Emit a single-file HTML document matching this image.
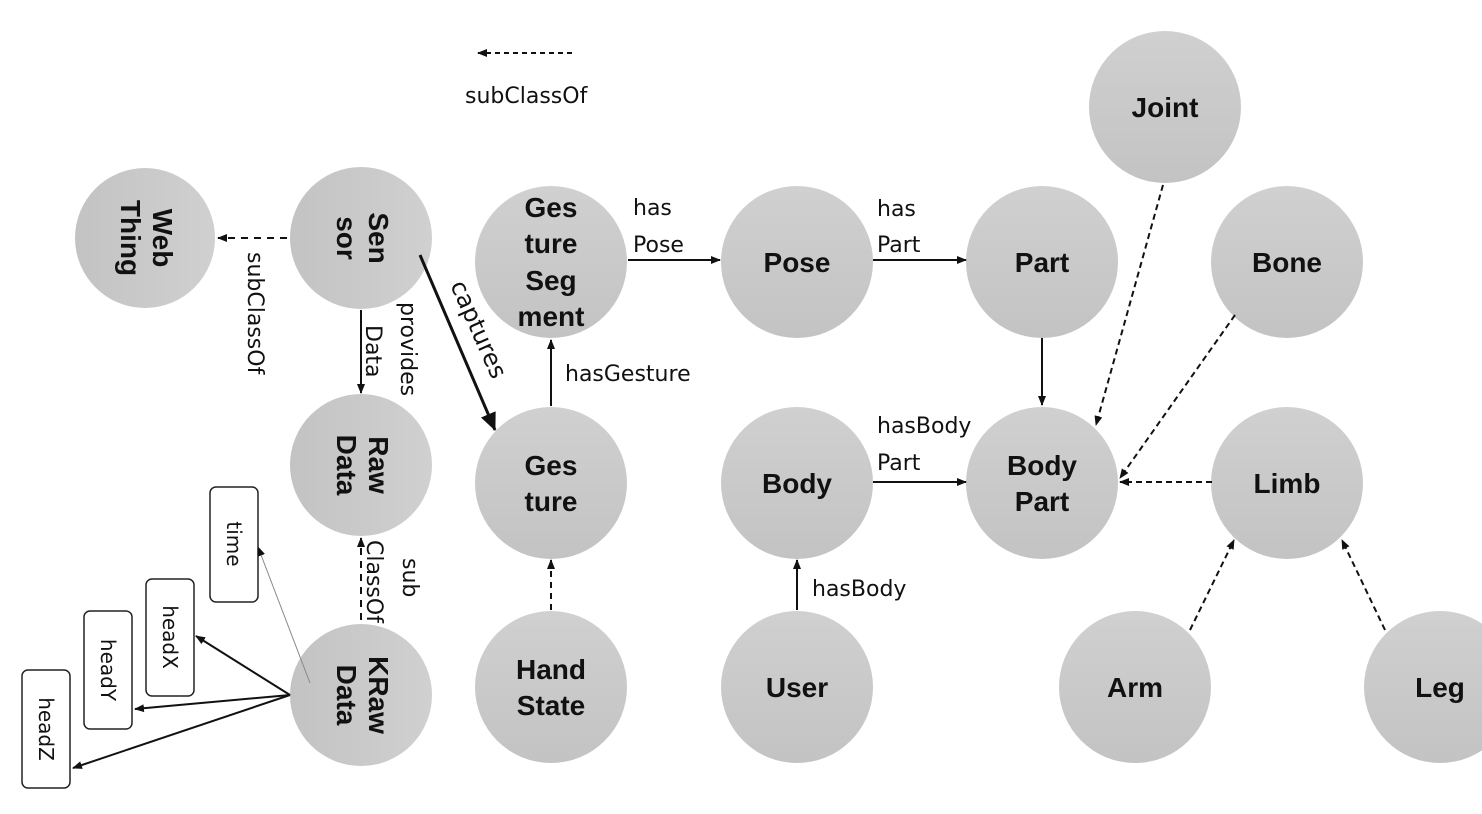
<!DOCTYPE html>
<html><head><meta charset="utf-8"><style>
html,body{margin:0;padding:0;background:#fff;width:1482px;height:814px;overflow:hidden}
svg{display:block}
.n{font-family:"Liberation Sans",Arial,sans-serif;font-weight:bold;font-size:28px;fill:#111;text-anchor:middle}
.l{font-family:"DejaVu Sans","Liberation Sans",sans-serif;font-size:22px;fill:#111}
.b{font-family:"DejaVu Sans","Liberation Sans",sans-serif;font-size:20px;fill:#111;text-anchor:middle}
</style></head><body>
<svg width="1482" height="814" viewBox="0 0 1482 814">
<defs>
<linearGradient id="g" x1="0" y1="0" x2="0" y2="1"><stop offset="0" stop-color="#d0d0d0"/><stop offset="1" stop-color="#c3c3c3"/></linearGradient>
<linearGradient id="gr" x1="1" y1="0" x2="0" y2="0"><stop offset="0" stop-color="#d0d0d0"/><stop offset="1" stop-color="#c3c3c3"/></linearGradient>
<marker id="a" markerWidth="10" markerHeight="10" refX="9" refY="5" orient="auto" markerUnits="userSpaceOnUse"><path d="M0,1 L10,5 L0,9 z" fill="#111"/></marker>
<marker id="A" markerWidth="18" markerHeight="18" refX="17" refY="9" orient="auto" markerUnits="userSpaceOnUse"><path d="M0,1 L18,9 L0,17 z" fill="#111"/></marker>
</defs>
<g fill="url(#gr)">
<circle cx="145" cy="238" r="70"/>
<circle cx="361" cy="238" r="71"/>
<circle cx="361" cy="465" r="71"/>
<circle cx="361" cy="695" r="71"/>
</g>
<g fill="url(#g)">
<circle cx="551" cy="262" r="76"/>
<circle cx="551" cy="483" r="76"/>
<circle cx="551" cy="687" r="76"/>
<circle cx="797" cy="262" r="76"/>
<circle cx="1042" cy="262" r="76"/>
<circle cx="1165" cy="107" r="76"/>
<circle cx="1287" cy="262" r="76"/>
<circle cx="797" cy="483" r="76"/>
<circle cx="1042" cy="483" r="76"/>
<circle cx="1287" cy="483" r="76"/>
<circle cx="797" cy="687" r="76"/>
<circle cx="1135" cy="687" r="76"/>
<circle cx="1440" cy="687" r="76"/>
</g>
<g class="n">
<text transform="translate(145,238) rotate(90)"><tspan x="0" y="-8">Web</tspan><tspan x="0" y="24">Thing</tspan></text>
<text transform="translate(361,238) rotate(90)"><tspan x="0" y="-8">Sen</tspan><tspan x="0" y="24">sor</tspan></text>
<text transform="translate(361,465) rotate(90)"><tspan x="0" y="-8">Raw</tspan><tspan x="0" y="24">Data</tspan></text>
<text transform="translate(361,695) rotate(90)"><tspan x="0" y="-8">KRaw</tspan><tspan x="0" y="24">Data</tspan></text>
<text x="551" y="217">Ges</text><text x="551" y="253">ture</text><text x="551" y="290">Seg</text><text x="551" y="326">ment</text>
<text x="551" y="475">Ges</text><text x="551" y="511">ture</text>
<text x="551" y="679">Hand</text><text x="551" y="715">State</text>
<text x="797" y="272">Pose</text>
<text x="1042" y="272">Part</text>
<text x="1165" y="117">Joint</text>
<text x="1287" y="272">Bone</text>
<text x="797" y="493">Body</text>
<text x="1042" y="475">Body</text><text x="1042" y="511">Part</text>
<text x="1287" y="493">Limb</text>
<text x="797" y="697">User</text>
<text x="1135" y="697">Arm</text>
<text x="1440" y="697">Leg</text>
</g>
<g fill="#fff" stroke="#222" stroke-width="1.5">
<rect x="210" y="487" width="48" height="115" rx="6"/>
<rect x="146" y="579" width="48" height="117" rx="6"/>
<rect x="84" y="611" width="48" height="118" rx="6"/>
<rect x="22" y="670" width="48" height="118" rx="6"/>
</g>
<g class="b">
<text transform="translate(234,544) rotate(90)" y="7">time</text>
<text transform="translate(170,637) rotate(90)" y="7">headX</text>
<text transform="translate(108,670) rotate(90)" y="7">headY</text>
<text transform="translate(46,729) rotate(90)" y="7">headZ</text>
</g>
<g stroke="#111" stroke-width="2" fill="none">
<line x1="572" y1="53" x2="478" y2="53" stroke-dasharray="5,4" marker-end="url(#a)"/>
<line x1="287" y1="238" x2="218" y2="238" stroke-dasharray="7,6" marker-end="url(#a)"/>
<line x1="361" y1="310" x2="361" y2="393" marker-end="url(#a)"/>
<line x1="420" y1="255" x2="495" y2="430" stroke-width="3" marker-end="url(#A)"/>
<line x1="361" y1="620" x2="361" y2="538" stroke-dasharray="7,6" marker-end="url(#a)"/>
<line x1="310" y1="683" x2="258" y2="547" stroke="#888" stroke-width="1" marker-end="url(#a)"/>
<line x1="290" y1="695" x2="196" y2="636" marker-end="url(#a)"/>
<line x1="290" y1="695" x2="135" y2="709" marker-end="url(#a)"/>
<line x1="290" y1="695" x2="73" y2="768" marker-end="url(#a)"/>
<line x1="551" y1="406" x2="551" y2="340" marker-end="url(#a)"/>
<line x1="551" y1="610" x2="551" y2="560" stroke-dasharray="6,5" marker-end="url(#a)"/>
<line x1="628" y1="260" x2="720" y2="260" marker-end="url(#a)"/>
<line x1="873" y1="260" x2="966" y2="260" marker-end="url(#a)"/>
<line x1="1042" y1="338" x2="1042" y2="405" marker-end="url(#a)"/>
<line x1="1163" y1="185" x2="1096" y2="425" stroke-dasharray="6,4" marker-end="url(#a)"/>
<line x1="1235" y1="315" x2="1120" y2="478" stroke-dasharray="6,4" marker-end="url(#a)"/>
<line x1="1212" y1="482" x2="1120" y2="482" stroke-dasharray="6,4" marker-end="url(#a)"/>
<line x1="873" y1="482" x2="966" y2="482" marker-end="url(#a)"/>
<line x1="797" y1="610" x2="797" y2="560" marker-end="url(#a)"/>
<line x1="1190" y1="630" x2="1234" y2="540" stroke-dasharray="6,4" marker-end="url(#a)"/>
<line x1="1385" y1="630" x2="1342" y2="540" stroke-dasharray="6,4" marker-end="url(#a)"/>
</g>
<g class="l">
<text x="465" y="103">subClassOf</text>
<text transform="translate(248,252) rotate(90)">subClassOf</text>
<text transform="translate(401,302) rotate(90)">provides</text>
<text transform="translate(366,325) rotate(90)">Data</text>
<text transform="translate(450,285) rotate(66)" font-size="24">captures</text>
<text transform="translate(403,558) rotate(90)">sub</text>
<text transform="translate(367,540) rotate(90)">ClassOf</text>
<text x="565" y="381">hasGesture</text>
<text x="633" y="215">has</text><text x="633" y="252">Pose</text>
<text x="877" y="216">has</text><text x="877" y="252">Part</text>
<text x="877" y="433">hasBody</text><text x="877" y="470">Part</text>
<text x="812" y="596">hasBody</text>
</g>
</svg>
</body></html>
